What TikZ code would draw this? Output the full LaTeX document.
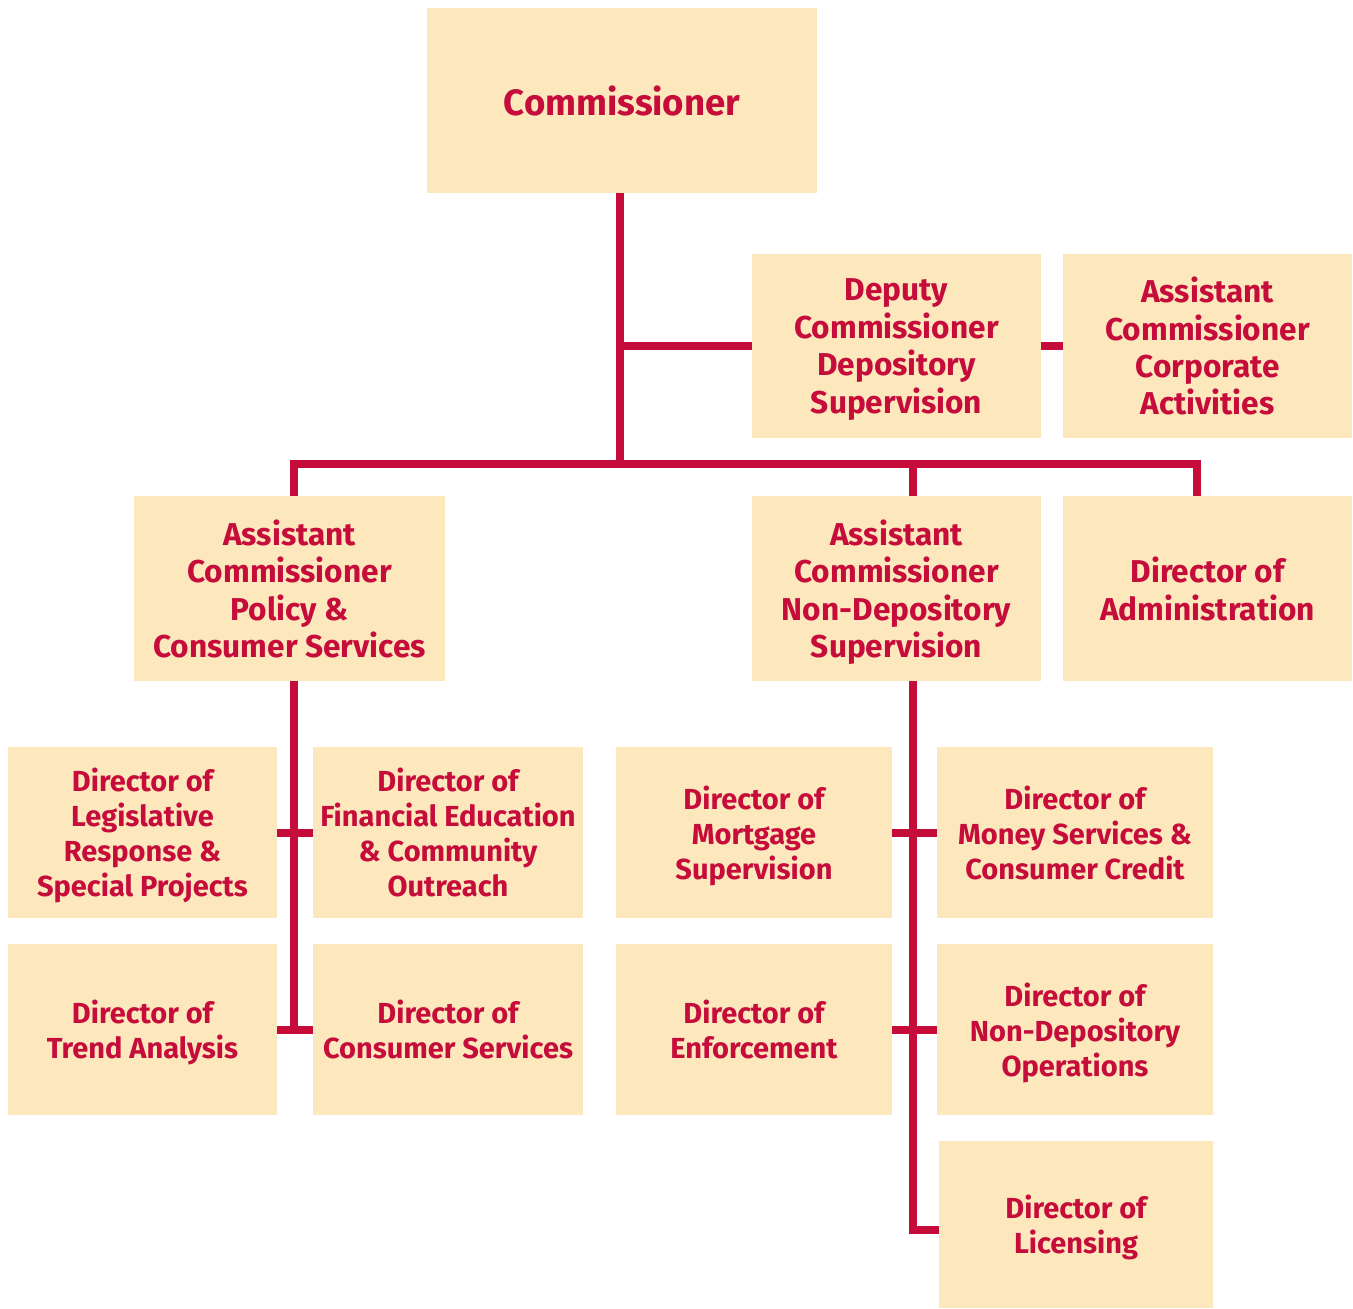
\documentclass[tikz,border=0pt]{standalone}
\usepackage{fontspec}
\setmainfont{Fira Sans}
\definecolor{crim}{RGB}{197,12,59}
\definecolor{boxfill}{RGB}{253,232,189}
\begin{document}
\begin{tikzpicture}[x=0.5pt,y=-0.5pt,
  box/.style={fill=boxfill,draw=none,inner sep=0pt,align=center,text=crim,text depth=0pt},
  big/.style={box,font=\fontsize{15.8}{18.7}\selectfont\bfseries},
  dir/.style={box,font=\fontsize{14.5}{17.5}\selectfont\bfseries},
  conn/.style={draw=crim,line width=4pt,line join=miter}]
\path[use as bounding box,fill=white] (0,0) rectangle (1353,1309);
% nodes
\node[box,font=\fontsize{18.3}{22}\selectfont\bfseries,minimum width=195pt,minimum height=92.5pt] (comm) at (622,100.5) {Commissioner};
\node[big,minimum width=144.5pt,minimum height=92pt] (dep) at (896.5,346) {Deputy\\Commissioner\\Depository\\Supervision};
\node[big,minimum width=144.5pt,minimum height=92pt] (corp) at (1207.5,346) {Assistant\\Commissioner\\Corporate\\Activities};
\node[big,minimum width=155.5pt,minimum height=92.5pt] (pol) at (289.5,588.5) {Assistant\\Commissioner\\Policy \&\\Consumer Services};
\node[big,minimum width=144.5pt,minimum height=92.5pt] (nondep) at (896.5,588.5) {Assistant\\Commissioner\\Non-Depository\\Supervision};
\node[big,minimum width=144.5pt,minimum height=92.5pt] (admin) at (1207.5,588.5) {Director of\\Administration};
\node[dir,minimum width=134.5pt,minimum height=85.5pt] (leg) at (142.5,832.5) {Director of\\Legislative\\Response \&\\Special Projects};
\node[dir,minimum width=135pt,minimum height=85.5pt] (fin) at (448,832.5) {Director of\\Financial Education\\\& Community\\Outreach};
\node[dir,minimum width=134.5pt,minimum height=85.5pt] (trend) at (142.5,1029.5) {Director of\\Trend Analysis};
\node[dir,minimum width=135pt,minimum height=85.5pt] (cons) at (448,1029.5) {Director of\\Consumer Services};
\node[dir,minimum width=138pt,minimum height=85.5pt] (mort) at (754,832.5) {Director of\\Mortgage\\Supervision};
\node[dir,minimum width=138pt,minimum height=85.5pt] (money) at (1075,832.5) {Director of\\Money Services \&\\Consumer Credit};
\node[dir,minimum width=138pt,minimum height=85.5pt] (enf) at (754,1029.5) {Director of\\Enforcement};
\node[dir,minimum width=138pt,minimum height=85.5pt] (nops) at (1075,1029.5) {Director of\\Non-Depository\\Operations};
\node[dir,minimum width=137pt,minimum height=83.5pt] (lic) at (1076,1224.5) {Director of\\Licensing};
% helper coordinates
\coordinate (tx) at (620,0);
\coordinate (xp) at (294,0);
\coordinate (xn) at (913,0);
\coordinate (xa) at (1197,0);
\coordinate (busy) at (0,464);
\coordinate (licy) at (0,1230);
% connectors
\draw[conn] (comm.south -| tx) -- (tx |- busy);
\draw[conn] (tx |- dep.west) -- (dep.west);
\draw[conn] (dep.east) -- (corp.west);
\draw[conn] (pol.north -| xp) -- (xp |- busy) -- (xa |- busy) -- (admin.north -| xa);
\draw[conn] (nondep.north -| xn) -- (xn |- busy);
\draw[conn] (pol.south -| xp) -- (xp |- cons.west);
\draw[conn] (leg.east) -- (fin.west);
\draw[conn] (trend.east) -- (cons.west);
\draw[conn] (nondep.south -| xn) |- (lic.west |- licy);
\draw[conn] (mort.east) -- (money.west);
\draw[conn] (enf.east) -- (nops.west);
\end{tikzpicture}
\end{document}
